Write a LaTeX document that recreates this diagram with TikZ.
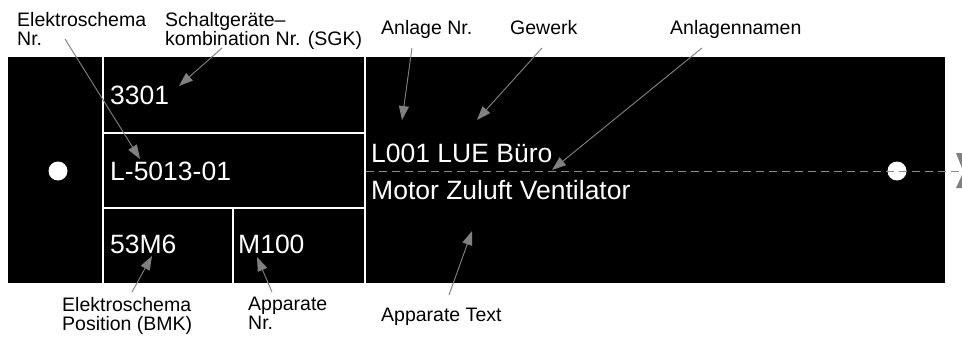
\documentclass[tikz,border=0pt]{standalone}
\usepackage{fontspec}
\setmainfont{Liberation Sans}
\usetikzlibrary{arrows.meta}
\definecolor{arrowgray}{HTML}{808080}
\definecolor{dashgray}{HTML}{8C8C8C}
\tikzset{
  whitetext/.style={text=white,inner sep=0pt,anchor=base west,font=\fontsize{26.5}{31}\selectfont},
  labeltext/.style={text=black,inner sep=0pt,anchor=base west,font=\fontsize{19.5}{19.5}\selectfont},
  labeltwo/.style={text=black,inner sep=0pt,anchor=north west,align=left,font=\fontsize{19.5}{19.5}\selectfont},
  sepline/.style={draw=white,line width=2pt},
  pointer/.style={draw=arrowgray,line width=0.9pt,-{Triangle[length=14pt,width=10pt]},fill=arrowgray},
  dotmark/.style={circle,fill=white,minimum size=19pt,inner sep=0pt},
  axisline/.style={draw=dashgray,line width=0.9pt,dash pattern=on 8pt off 5pt}
}
\begin{document}
\begin{tikzpicture}[x=1pt,y=-1pt]
\useasboundingbox[fill=white] (0,0) rectangle (962,337);
% black plate
\fill[black] (8,57) rectangle (945,283);
% separators
\draw[sepline] (103,57) -- (103,283);
\draw[sepline] (365,57) -- (365,283);
\draw[sepline] (103,133) -- (365,133);
\draw[sepline] (103,208) -- (365,208);
\draw[sepline] (233,208) -- (233,283);
% dots
\node[dotmark] (dotL) at (58,171) {};
\node[dotmark] (dotR) at (897,171) {};
% dashed axis
\coordinate (axisA) at (366,171);
\coordinate (axisB) at (962,171);
\draw[axisline] (axisA) -- (axisB);
\fill[arrowgray] (956,153) -- (962,153) -- (962,168) -- cycle;
\fill[arrowgray] (962,175) -- (962,188) -- (956,188) -- cycle;
% white texts
\node[whitetext] (t3301) at (110,104) {3301};
\node[whitetext] (tL5013) at (110,180) {L-5013-01};
\node[whitetext] (t53M6) at (110,253) {53M6};
\node[whitetext] (tM100) at (238,253) {M100};
\node[whitetext] (tL001) at (371,162) {L001 LUE Büro};
\node[whitetext] (tMotor) at (371,199) {Motor Zuluft Ventilator};
% labels
\node[labeltwo] (lElNr) at (17,11.8) {Elektroschema\\Nr.};
\node[labeltwo] (lSGK) at (165,11.8) {Schaltgeräte–\\kombination Nr. (SGK)};
\node[labeltext] (lAnl) at (381,35) {Anlage Nr.};
\node[labeltext] (lGew) at (510,35) {Gewerk};
\node[labeltext] (lAnN) at (670,35) {Anlagennamen};
\node[labeltwo] (lBMK) at (62,296.8) {Elektroschema\\Position (BMK)};
\node[labeltwo] (lApp) at (248,296.8) {Apparate\\Nr.};
\node[labeltext] (lAppT) at (381,321) {Apparate Text};
% arrow ends
\coordinate (sElNr) at (65,39);   \coordinate (eElNr) at (140,159);
\coordinate (sSGK) at (222,48);   \coordinate (eSGK) at (179,86);
\coordinate (sAnl) at (412,48);   \coordinate (eAnl) at (402,120);
\coordinate (sGew) at (542,48);   \coordinate (eGew) at (477,120);
\coordinate (sAnN) at (702,48);   \coordinate (eAnN) at (552,170);
\coordinate (sAppT) at (449,295); \coordinate (eAppT) at (472,231);
\coordinate (sBMK) at (132,292);  \coordinate (eBMK) at (152,256);
\coordinate (sApp) at (272,292);  \coordinate (eApp) at (257,257);
\draw[pointer] (sElNr) -- (eElNr);
\draw[pointer] (sSGK) -- (eSGK);
\draw[pointer] (sAnl) -- (eAnl);
\draw[pointer] (sGew) -- (eGew);
\draw[pointer] (sAnN) -- (eAnN);
\draw[pointer] (sAppT) -- (eAppT);
\draw[pointer] (sBMK) -- (eBMK);
\draw[pointer] (sApp) -- (eApp);
\end{tikzpicture}
\end{document}
